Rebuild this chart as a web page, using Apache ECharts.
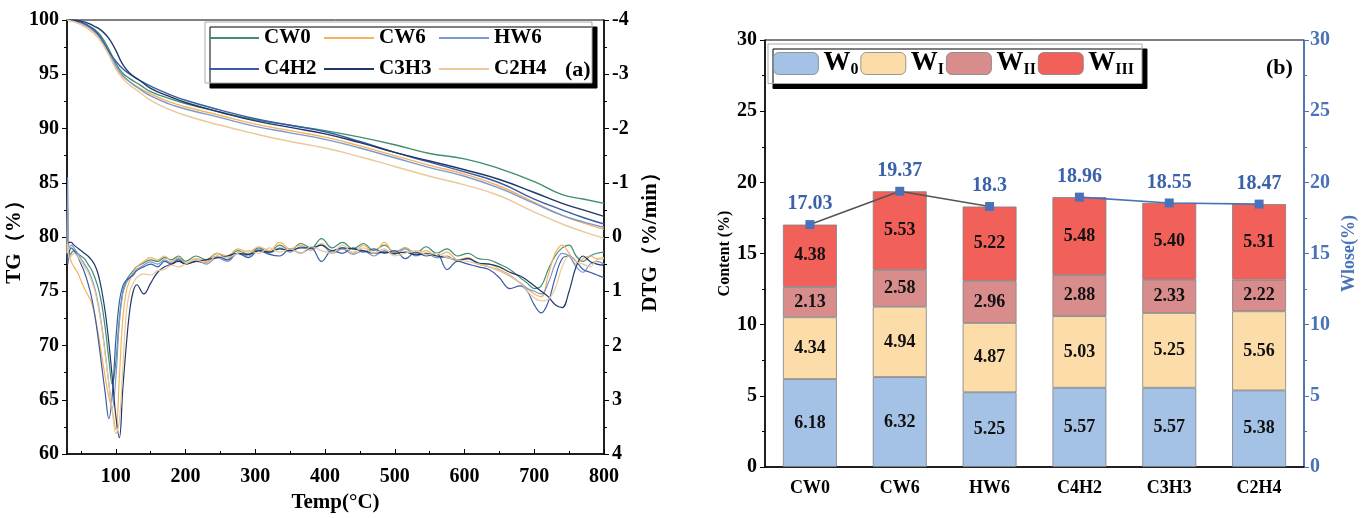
<!DOCTYPE html>
<html>
<head>
<meta charset="utf-8">
<script src="https://cdn.jsdelivr.net/npm/echarts@6/dist/echarts.min.js"></script>
<style>
  html, body { margin: 0; padding: 0; background: #fff; }
  #main { width: 1363px; height: 518px; }
</style>
</head>
<body>
<div id="main"></div>
<script>
// ---- panel (a): TG curves ----
var names = ['CW0', 'CW6', 'HW6', 'C4H2', 'C3H3', 'C2H4'];
var colors = ['#3f8f6e', '#f5b25a', '#7d98cc', '#3a5ca8', '#1f3868', '#e9c99a'];

var tgTemp = [30, 50, 70, 80, 90, 100, 110, 120, 135, 150, 175, 200, 250, 300, 350, 400, 450, 500, 550, 600, 650, 700, 740, 770, 800];
var tgCW0  = [100, 99.8, 99.1, 98.4, 97.3, 96.0, 95.1, 94.6, 94.0, 93.4, 92.8, 92.3, 91.5, 90.8, 90.3, 89.8, 89.2, 88.5, 87.7, 87.2, 86.3, 85.1, 83.9, 83.5, 83.1];
var tgCW6  = [100, 99.6, 98.7, 97.9, 96.8, 95.6, 94.8, 94.3, 93.7, 93.2, 92.5, 92.0, 91.2, 90.4, 89.8, 89.2, 88.4, 87.5, 86.6, 85.8, 84.7, 83.2, 82.0, 81.3, 80.7];
var tgHW6  = [100, 99.7, 98.9, 98.1, 97.0, 95.8, 94.9, 94.3, 93.6, 93.0, 92.3, 91.8, 91.0, 90.2, 89.6, 89.0, 88.2, 87.3, 86.4, 85.6, 84.5, 83.1, 82.0, 81.4, 80.9];
var tgC4H2 = [100, 99.8, 99.0, 98.2, 97.1, 96.2, 95.5, 95.0, 94.4, 93.9, 93.2, 92.6, 91.7, 90.9, 90.3, 89.7, 88.8, 87.8, 86.9, 86.0, 85.0, 83.5, 82.5, 81.8, 81.2];
var tgC3H3 = [100, 99.9, 99.4, 99.0, 98.3, 97.2, 95.9, 95.1, 94.4, 93.7, 93.0, 92.4, 91.5, 90.7, 90.1, 89.5, 88.7, 87.8, 87.0, 86.2, 85.3, 84.1, 83.1, 82.5, 81.9];
var tgC2H4 = [100, 99.6, 98.7, 97.9, 96.8, 95.5, 94.6, 94.0, 93.3, 92.6, 91.8, 91.2, 90.3, 89.5, 88.8, 88.2, 87.4, 86.5, 85.6, 84.8, 83.8, 82.3, 81.2, 80.5, 79.9];

// ---- panel (a): DTG curves ----
var dtgTemp = [30, 31, 33, 36, 40, 45, 50, 55, 60, 65, 70, 75, 80, 85, 90, 95, 100, 105, 110, 115, 120, 125, 130, 140, 150, 160, 170, 180, 190, 200,
  215, 230, 245, 260, 275, 290, 305, 320, 335, 350, 365, 380, 395, 410, 425, 440, 455, 470, 485, 500, 515, 530, 545, 560, 575, 590, 605, 620, 635, 650,
  665, 680, 690, 700, 710, 720, 730, 740, 750, 760, 770, 780, 790, 800];
var dtgCW0 = [0.3, 0.2, 0.35, 0.3, 0.25, 0.3, 0.35, 0.4, 0.5, 0.6, 0.75, 0.95, 1.25, 1.7, 2.25, 2.72, 2.3, 1.5, 1.0, 0.8, 0.7, 0.62, 0.55, 0.48, 0.42, 0.45, 0.38, 0.42, 0.35, 0.45,
  0.35, 0.42, 0.3, 0.38, 0.25, 0.32, 0.2, 0.28, 0.15, 0.25, 0.12, 0.2, 0.03, 0.2, 0.1, 0.22, 0.12, 0.25, 0.15, 0.28, 0.2, 0.3, 0.18, 0.3, 0.22, 0.35, 0.3, 0.4, 0.42, 0.5,
  0.6, 0.75, 0.85, 0.95, 0.9, 0.6, 0.35, 0.2, 0.15, 0.35, 0.45, 0.35, 0.3, 0.28];
var dtgCW6 = [0.3, -0.6, 0.3, 0.45, 0.55, 0.65, 0.8, 0.95, 1.07, 1.2, 1.45, 1.8, 2.2, 2.6, 2.95, 3.2, 3.55, 2.6, 1.5, 1.0, 0.8, 0.65, 0.55, 0.45, 0.38, 0.42, 0.35, 0.45, 0.38, 0.48,
  0.4, 0.45, 0.3, 0.35, 0.22, 0.28, 0.18, 0.25, 0.1, 0.22, 0.15, 0.25, 0.12, 0.28, 0.2, 0.3, 0.15, 0.3, 0.1, 0.3, 0.2, 0.32, 0.25, 0.35, 0.28, 0.42, 0.38, 0.5, 0.5, 0.6,
  0.7, 0.85, 0.95, 1.05, 1.1, 0.7, 0.3, 0.15, 0.3, 0.5, 0.4, 0.35, 0.4, 0.38];
var dtgHW6 = [0.3, -1.1, 0.2, 0.15, 0.2, 0.3, 0.4, 0.5, 0.6, 0.75, 0.95, 1.25, 1.65, 2.15, 2.7, 3.15, 2.6, 1.6, 1.05, 0.85, 0.75, 0.68, 0.6, 0.52, 0.46, 0.5, 0.42, 0.48, 0.4, 0.5,
  0.42, 0.5, 0.38, 0.45, 0.3, 0.35, 0.22, 0.3, 0.2, 0.28, 0.18, 0.22, 0.15, 0.3, 0.22, 0.32, 0.25, 0.35, 0.25, 0.32, 0.22, 0.35, 0.3, 0.38, 0.35, 0.45, 0.4, 0.5, 0.55, 0.62,
  0.72, 0.85, 0.95, 1.0, 1.05, 0.85, 0.5, 0.3, 0.35, 0.55, 0.65, 0.5, 0.45, 0.5];
var dtgC4H2 = [0.3, 0.5, 0.3, 0.2, 0.25, 0.35, 0.5, 0.65, 0.85, 1.1, 1.45, 1.9, 2.4, 2.9, 3.35, 2.9, 1.9, 1.2, 0.9, 0.8, 0.75, 0.7, 0.62, 0.55, 0.5, 0.55, 0.45, 0.5, 0.42, 0.5,
  0.45, 0.48, 0.35, 0.42, 0.3, 0.38, 0.25, 0.32, 0.35, 0.22, 0.3, 0.2, 0.45, 0.25, 0.3, 0.2, 0.28, 0.22, 0.3, 0.25, 0.4, 0.28, 0.35, 0.3, 0.6, 0.45, 0.5, 0.55, 0.6, 0.75,
  0.95, 0.9, 1.0, 1.25, 1.4, 1.2, 0.75, 0.4, 0.35, 0.45, 0.6, 0.65, 0.7, 0.75];
var dtgC3H3 = [0.3, 0.15, 0.1, 0.1, 0.15, 0.2, 0.25, 0.3, 0.35, 0.42, 0.52, 0.7, 1.0, 1.4, 1.95, 2.6, 3.3, 3.7, 2.8, 2.0, 1.35, 1.0, 0.88, 1.05, 0.85, 0.65, 0.55, 0.5, 0.45, 0.5,
  0.45, 0.42, 0.38, 0.35, 0.3, 0.32, 0.25, 0.28, 0.22, 0.25, 0.2, 0.2, 0.15, 0.25, 0.2, 0.22, 0.25, 0.3, 0.28, 0.3, 0.28, 0.33, 0.3, 0.35, 0.38, 0.42, 0.4, 0.48, 0.5, 0.55,
  0.65, 0.72, 0.8, 0.9, 1.0, 1.1, 1.25, 1.3, 1.0, 0.55, 0.35, 0.45, 0.5, 0.52];
var dtgC2H4 = [0.3, 0.1, 0.4, 0.35, 0.3, 0.35, 0.45, 0.55, 0.65, 0.8, 1.0, 1.3, 1.7, 2.2, 2.7, 3.2, 3.62, 3.4, 2.4, 1.4, 1.0, 0.85, 0.75, 0.68, 0.7, 0.62, 0.6, 0.52, 0.55, 0.5,
  0.42, 0.48, 0.35, 0.38, 0.3, 0.25, 0.3, 0.2, 0.28, 0.22, 0.3, 0.18, 0.25, 0.3, 0.15, 0.28, 0.2, 0.3, 0.22, 0.35, 0.3, 0.25, 0.32, 0.3, 0.38, 0.42, 0.45, 0.5, 0.55, 0.62,
  0.72, 0.85, 1.0, 1.12, 1.18, 1.15, 0.95, 0.55, 0.35, 0.45, 0.5, 0.55, 0.42, 0.4];

var tempTicks = [100, 200, 300, 400, 500, 600, 700, 800];
var tempMinor = [50, 150, 250, 350, 450, 550, 650, 750];

// ---- panel (b): stacked content ----
var samples = ['CW0', 'CW6', 'HW6', 'C4H2', 'C3H3', 'C2H4'];
var w0   = [6.18, 6.32, 5.25, 5.57, 5.57, 5.38];
var wI   = [4.34, 4.94, 4.87, 5.03, 5.25, 5.56];
var wII  = [2.13, 2.58, 2.96, 2.88, 2.33, 2.22];
var wIII = [4.38, 5.53, 5.22, 5.48, 5.40, 5.31];
var wlose = [17.03, 19.37, 18.3, 18.96, 18.55, 18.47];

var barNames = ['W0', 'WI', 'WII', 'WIII'];
var barSubs = ['0', 'I', 'II', 'III'];
var barColors = ['#a4c2e6', '#fcdca8', '#d98c8c', '#f2605a'];

var FONT = 'Liberation Serif';
var blue = '#4a72b8';

function pairs(xs, ys) { return xs.map(function(x, i) { return [x, ys[i]]; }); }

var tgSets = [tgCW0, tgCW6, tgHW6, tgC4H2, tgC3H3, tgC2H4];
var dtgSets = [dtgCW0, dtgCW6, dtgHW6, dtgC4H2, dtgC3H3, dtgC2H4];

var series = [];
names.forEach(function(n, i) {
  series.push({name: n, type: 'line', xAxisIndex: 0, yAxisIndex: 0, data: pairs(tgTemp, tgSets[i]),
    smooth: true, symbol: 'none', lineStyle: {width: 1.4, color: colors[i]}, itemStyle: {color: colors[i]}, z: 3});
});
names.forEach(function(n, i) {
  series.push({name: n, type: 'line', xAxisIndex: 0, yAxisIndex: 1, data: pairs(dtgTemp, dtgSets[i]),
    smooth: 0.4, symbol: 'none', lineStyle: {width: 1.2, color: colors[i]}, itemStyle: {color: colors[i]}, z: 3});
});

var stacks = [w0, wI, wII, wIII];
barNames.forEach(function(n, i) {
  series.push({name: n, type: 'bar', stack: 'c', xAxisIndex: 2, yAxisIndex: 2, data: stacks[i], barWidth: '60%',
    itemStyle: {color: barColors[i], borderColor: '#808080', borderWidth: 0.8},
    label: {show: true, position: 'inside', color: '#111', fontFamily: FONT, fontWeight: 'bold', fontSize: 18,
      formatter: function(p) { return p.value.toFixed(2); }}, z: 2});
});
var loseA = wlose.map(function(v, i) { return i <= 2 ? v : '-'; });
var loseB = wlose.map(function(v, i) { return i >= 3 ? v : '-'; });
series.push({name: 'Wlose', type: 'line', xAxisIndex: 2, yAxisIndex: 3, data: loseA, symbol: 'rect', symbolSize: 9,
  lineStyle: {color: '#555', width: 1.6}, itemStyle: {color: blue},
  label: {show: true, position: 'top', distance: 6, color: '#3a62aa', fontFamily: FONT, fontWeight: 'bold', fontSize: 20}, z: 5});
series.push({name: 'Wlose2', type: 'line', xAxisIndex: 2, yAxisIndex: 3, data: loseB, symbol: 'rect', symbolSize: 9,
  lineStyle: {color: blue, width: 1.6}, itemStyle: {color: blue},
  label: {show: true, position: 'top', distance: 6, color: '#3a62aa', fontFamily: FONT, fontWeight: 'bold', fontSize: 20}, z: 5});

var axisFont = {fontFamily: FONT, fontWeight: 'bold', color: '#000'};
function txt(size, extra) { return Object.assign({fontSize: size}, axisFont, extra || {}); }

var chart = echarts.init(document.getElementById('main'));
chart.setOption({
  animation: false,
  backgroundColor: '#fff',
  grid: [
    {left: 67, right: 759, top: 20, bottom: 49, show: true, borderColor: '#000', borderWidth: 1},
    {left: 765, right: 59, top: 40, bottom: 51, show: true, borderColor: '#000', borderWidth: 1}
  ],
  legend: [
    {data: names, left: 205, top: 22, width: 345, itemWidth: 50, itemHeight: 26, itemGap: 5,
      padding: [3, 44, 1, 3], backgroundColor: '#fff', borderColor: '#aaa', borderWidth: 1,
      shadowColor: '#000', shadowBlur: 0, shadowOffsetX: 5, shadowOffsetY: 5,
      itemStyle: {opacity: 0},
      textStyle: txt(21, {width: 54, lineHeight: 26})},
    {data: barNames, left: 768, top: 44, itemWidth: 45, itemHeight: 22, itemGap: 2,
      padding: [6, 8, 6, 5], backgroundColor: '#fff', borderColor: '#aaa', borderWidth: 1,
      shadowColor: '#000', shadowBlur: 0, shadowOffsetX: 5, shadowOffsetY: 5,
      itemStyle: {borderColor: '#808080', borderWidth: 0.8},
      formatter: function(n) { return '{b|W}{s|' + barSubs[barNames.indexOf(n)] + '}'; },
      textStyle: {rich: {
        b: {fontFamily: FONT, fontWeight: 'bold', fontSize: 27, color: '#000'},
        s: {fontFamily: FONT, fontWeight: 'bold', fontSize: 16, color: '#000', padding: [12, 0, 0, 0]}
      }}}
  ],
  xAxis: [
    {type: 'value', gridIndex: 0, min: 30, max: 800, position: 'bottom', splitLine: {show: false},
      axisLine: {onZero: false, lineStyle: {color: '#000', width: 1.5}},
      axisTick: {inside: true, length: 5, customValues: tempTicks, lineStyle: {color: '#000'}},
      axisLabel: Object.assign({customValues: tempTicks, margin: 13}, txt(20)),
      name: 'Temp(°C)', nameLocation: 'middle', nameGap: 38, nameTextStyle: txt(21)},
    {type: 'value', gridIndex: 0, min: 30, max: 800, position: 'bottom', splitLine: {show: false},
      axisLine: {show: false, onZero: false},
      axisTick: {inside: true, length: 3, customValues: tempMinor, lineStyle: {color: '#000'}},
      axisLabel: {show: false}},
    {type: 'category', gridIndex: 1, data: samples,
      axisLine: {onZero: false, lineStyle: {color: '#000', width: 1.5}},
      axisTick: {alignWithLabel: true, length: 5, lineStyle: {color: '#000'}},
      axisLabel: Object.assign({margin: 12}, txt(18))}
  ],
  yAxis: [
    {type: 'value', gridIndex: 0, min: 60, max: 100, interval: 5, splitLine: {show: false},
      axisLine: {show: true, lineStyle: {color: '#000', width: 1.5}},
      axisTick: {show: true, length: 5, lineStyle: {color: '#000'}},
      minorTick: {show: true, splitNumber: 2, length: 3, lineStyle: {color: '#000'}},
      axisLabel: Object.assign({margin: 8}, txt(20)),
      name: 'TG（%）', nameLocation: 'middle', nameGap: 40, nameTextStyle: txt(21)},
    {type: 'value', gridIndex: 0, min: -4, max: 4, interval: 1, inverse: true, position: 'right',
      splitLine: {show: false},
      axisLine: {show: true, lineStyle: {color: '#000', width: 1.5}},
      axisTick: {show: true, length: 5, lineStyle: {color: '#000'}},
      minorTick: {show: true, splitNumber: 2, length: 3, lineStyle: {color: '#000'}},
      axisLabel: Object.assign({margin: 8}, txt(20)),
      name: 'DTG（%/min）', nameLocation: 'middle', nameGap: 36, nameRotate: 90, nameTextStyle: txt(21)},
    {type: 'value', gridIndex: 1, min: 0, max: 30, interval: 5, splitLine: {show: false},
      axisLine: {show: true, lineStyle: {color: '#000', width: 1.5}},
      axisTick: {show: true, length: 5, lineStyle: {color: '#000'}},
      minorTick: {show: true, splitNumber: 2, length: 3, lineStyle: {color: '#000'}},
      axisLabel: Object.assign({margin: 8}, txt(20)),
      name: 'Content (%)', nameLocation: 'middle', nameGap: 30, nameTextStyle: txt(16)},
    {type: 'value', gridIndex: 1, min: 0, max: 30, interval: 5, position: 'right', splitLine: {show: false},
      axisLine: {show: true, lineStyle: {color: blue, width: 1.5}},
      axisTick: {show: true, length: 5, lineStyle: {color: blue}},
      minorTick: {show: true, splitNumber: 2, length: 3, lineStyle: {color: blue}},
      axisLabel: Object.assign({margin: 6}, txt(20, {color: blue})),
      name: 'Wlose(%)', nameLocation: 'middle', nameGap: 36, nameRotate: 90, nameTextStyle: txt(18, {color: blue})}
  ],
  graphic: [
    {type: 'text', left: 565, top: 59, z: 100, style: {text: '(a)', font: 'bold 22px "Liberation Serif"', fill: '#000'}},
    {type: 'text', left: 1266, top: 57, z: 100, style: {text: '(b)', font: 'bold 22px "Liberation Serif"', fill: '#000'}}
  ],
  series: series
});
</script>
</body>
</html>
